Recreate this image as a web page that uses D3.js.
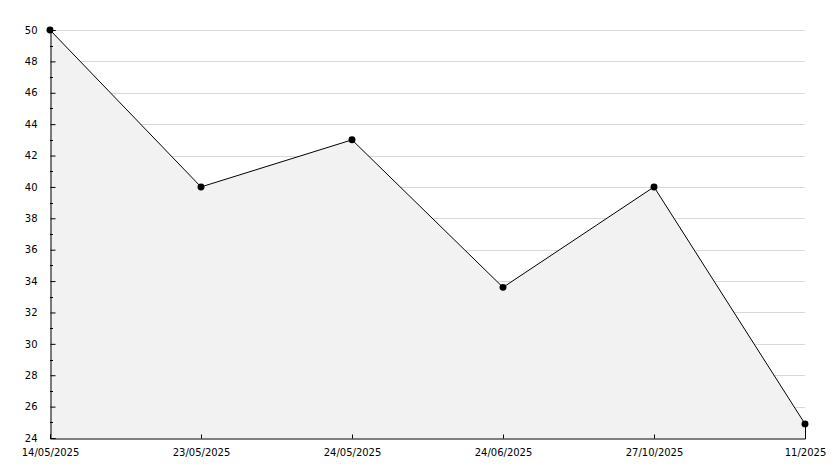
<!DOCTYPE html>
<html>
<head>
<meta charset="utf-8">
<script src="https://cdn.jsdelivr.net/npm/d3@7"></script>
<style>
  body { margin: 0; background: #fff; }
  text { font-family: 'DejaVu Sans', sans-serif; font-size: 10px; fill: #000; }
</style>
</head>
<body>
<div id="chart"></div>
<script>
let dates = ['14/05/2025', '23/05/2025', '24/05/2025', '24/06/2025', '27/10/2025', '11/2025']
let values = [50, 40, 43, 33.6, 40, 24.9]
let yTicks = [24, 26, 28, 30, 32, 34, 36, 38, 40, 42, 44, 46, 48, 50]

let margin = { top: 30, left: 50, right: 29, bottom: 30 }
let width = 834 - margin.left - margin.right
let height = 468 - margin.top - margin.bottom

let svg = d3
  .select('#chart')
  .append('svg')
  .attr('width', 834)
  .attr('height', 468)
  .append('g')
  .attr('transform', 'translate(' + margin.left + ',' + margin.top + ')')

let x = d3.scalePoint().domain(dates).range([0, width])
let y = d3.scaleLinear().domain([24, 50]).range([height, 0])

let data = dates.map((d, i) => ({ date: d, value: values[i] }))

// gridlines
svg
  .append('g')
  .selectAll('line')
  .data(yTicks.slice(1))
  .enter()
  .append('line')
  .attr('x1', 0)
  .attr('x2', width)
  .attr('y1', d => Math.round(y(d)) + 0.5)
  .attr('y2', d => Math.round(y(d)) + 0.5)
  .attr('stroke', '#d9d9d9')

let area = d3
  .area()
  .x(d => x(d.date))
  .y0(height)
  .y1(d => y(d.value))

svg
  .append('path')
  .datum(data)
  .attr('d', area)
  .attr('fill', '#f2f2f2')

let line = d3
  .line()
  .x(d => x(d.date))
  .y(d => y(d.value))

svg
  .append('path')
  .datum(data)
  .attr('d', line)
  .attr('fill', 'none')
  .attr('stroke', '#000')
  .attr('stroke-width', 1)

// right edge of area
svg
  .append('line')
  .attr('x1', x(dates[dates.length - 1]) + 0.5)
  .attr('x2', x(dates[dates.length - 1]) + 0.5)
  .attr('y1', y(values[values.length - 1]))
  .attr('y2', height)
  .attr('stroke', '#000')

// y axis
let yAxis = d3
  .axisLeft(y)
  .tickValues(yTicks)
  .tickSize(-5)
  .tickPadding(13)
  .tickFormat(d3.format('d'))

let yg = svg.append('g').attr('transform', 'translate(0.5,0)').call(yAxis)
yg.select('.domain').attr('stroke', '#000')
yg.selectAll('.tick line').attr('stroke', '#000')

// minor ticks
svg
  .append('g')
  .selectAll('line')
  .data(d3.range(25, 50, 2))
  .enter()
  .append('line')
  .attr('x1', 0)
  .attr('x2', 3)
  .attr('y1', d => Math.round(y(d)) + 0.5)
  .attr('y2', d => Math.round(y(d)) + 0.5)
  .attr('stroke', '#000')

// x axis
let xAxis = d3.axisBottom(x).tickSize(-4).tickPadding(10)
let xg = svg
  .append('g')
  .attr('transform', 'translate(0,' + (height + 0.5) + ')')
  .call(xAxis)
xg.select('.domain').attr('stroke', '#000')
xg.selectAll('.tick line').attr('stroke', '#000')

// markers
svg
  .append('g')
  .selectAll('path')
  .data(data)
  .enter()
  .append('path')
  .attr('d', d3.symbol().type(d3.symbolCircle).size(38))
  .attr('transform', d => 'translate(' + x(d.date) + ',' + y(d.value) + ')')
  .attr('fill', '#000')
</script>
</body>
</html>
